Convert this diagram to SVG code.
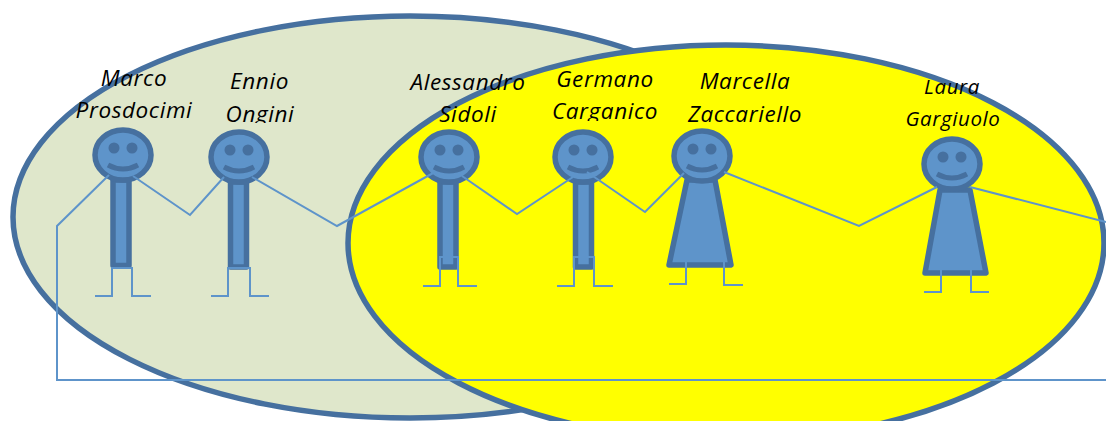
<svg xmlns="http://www.w3.org/2000/svg" width="1106" height="421" viewBox="0 0 1106 421">
<style>
.el{stroke:#46709f;stroke-width:5.500}
.head,.body{fill:#5e94ca;stroke:#46709f;stroke-width:5.500;stroke-linejoin:round}
.eye{fill:#46709f}
.smile{fill:none;stroke:#46709f;stroke-width:5}
.ln{fill:none;stroke:#5e94ca;stroke-width:2}
text{font-family:"Open Sans","Noto Sans",sans-serif;font-style:italic;font-size:22.500px;letter-spacing:.6px;fill:#000;text-anchor:middle}
.sm{font-size:20.500px}
</style>
<defs>
<g id="face">
<ellipse class="head" cx="0" cy="0" rx="28" ry="25"/>
<circle class="eye" cx="-9" cy="-7" r="5.500"/>
<circle class="eye" cx="9" cy="-7" r="5.500"/>
<path class="smile" d="M-15 10Q0 18 15 10"/>
</g>
<clipPath id="c2"><rect x="210" y="60" width="100" height="63"/></clipPath>
<clipPath id="c3"><rect x="540" y="60" width="130" height="61"/></clipPath>
</defs>
<ellipse id="set-a" class="el" cx="410" cy="217" rx="397" ry="201" fill="#dfe7cb"/>
<ellipse id="set-b" class="el" cx="726" cy="243" rx="378" ry="198" fill="#ffff00"/>
<g id="marco"><rect class="body" x="113" y="180" width="16" height="85.500"/><use href="#face" x="123" y="155"/>
<text><tspan x="134" y="86">Marco</tspan><tspan x="134" y="118">Prosdocimi</tspan></text></g>
<g id="ennio"><rect class="body" x="230.500" y="182" width="16" height="85"/><use href="#face" x="239" y="157"/>
<text clip-path="url(#c2)"><tspan x="259.500" y="89">Ennio</tspan><tspan x="260" y="122">Ongini</tspan></text></g>
<g id="alessandro"><rect class="body" x="440" y="182" width="16" height="85"/><use href="#face" x="449" y="157"/>
<text><tspan x="468" y="90">Alessandro</tspan><tspan x="468" y="122">Sidoli</tspan></text></g>
<g id="germano"><rect class="body" x="575.500" y="182" width="16" height="85"/><use href="#face" x="583" y="157"/>
<text clip-path="url(#c3)"><tspan x="605" y="87">Germano</tspan><tspan x="605" y="119">Carganico</tspan></text></g>
<g id="marcella"><path class="body" d="M687 180H715L731 265H669Z"/><use href="#face" x="702" y="156"/>
<text><tspan x="745" y="89">Marcella</tspan><tspan x="745" y="122">Zaccariello</tspan></text></g>
<g id="laura"><path class="body" d="M940 190H970L986 273H925Z"/><use href="#face" x="952" y="164"/>
<text class="sm"><tspan x="952" y="94">Laura</tspan><tspan x="953" y="126">Gargiuolo</tspan></text></g>
<g id="connectors">
<path class="ln" d="M1106 380H57V226L109 175"/>
<path class="ln" d="M133 176L190 215L224 177"/>
<path class="ln" d="M252 177L337 226L435 172"/>
<path class="ln" d="M462 176L517 214L573 177"/>
<path class="ln" d="M587 172L645 212L684 173"/>
<path class="ln" d="M724 172L859 226L937 187"/>
<path class="ln" d="M970 187L1106 222"/>
<path class="ln" d="M95 296H112V268H132V296H151"/>
<path class="ln" d="M211 296H228V268H250V296H269"/>
<path class="ln" d="M423 286H440V257H458V286H477"/>
<path class="ln" d="M557 286H574V257H594V286H613"/>
<path class="ln" d="M669 284H686V256H724V285H743"/>
<path class="ln" d="M924 292H941V263H971V292H989"/>
</g>
</svg>
